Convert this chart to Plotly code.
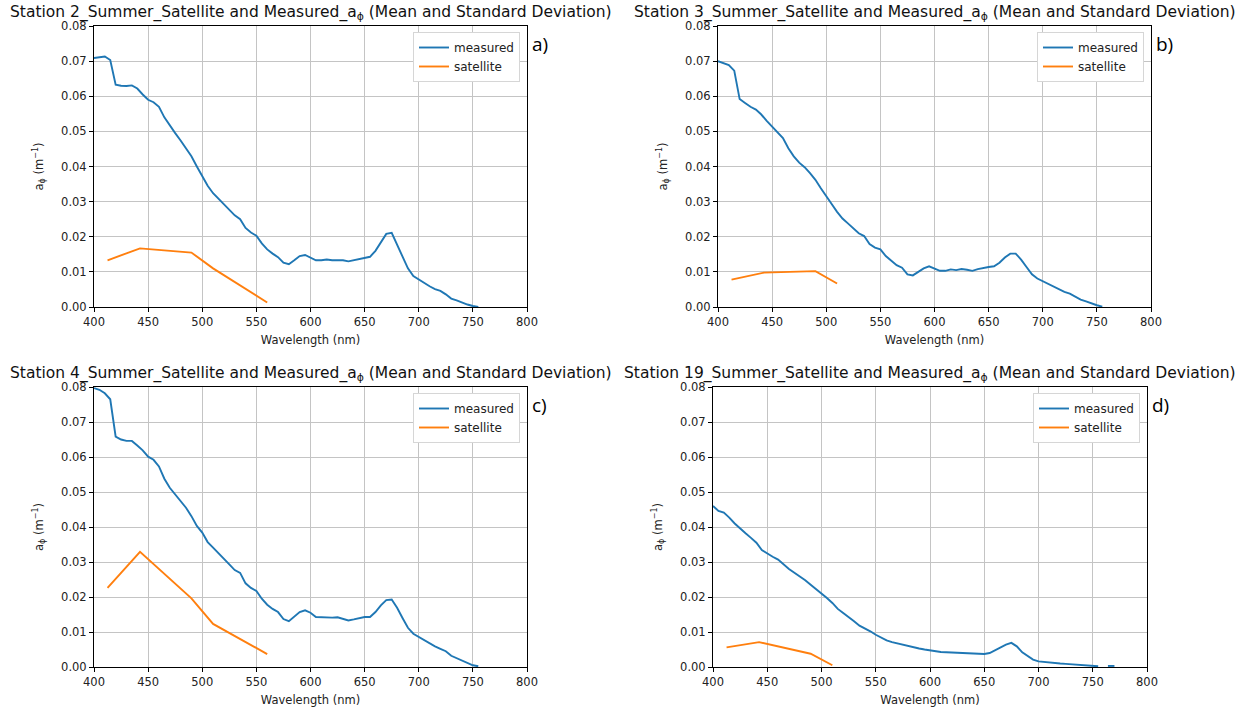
import plotly.graph_objects as go

# ---------------- data ----------------
wavelength = list(range(400, 760, 5))  # 400..755 nm

st2_measured = [
    0.0709, 0.0712, 0.0713, 0.0703, 0.0633, 0.0630, 0.0629, 0.0631, 0.0622, 0.0605,
    0.0590, 0.0583, 0.0570, 0.0540, 0.0516, 0.0495, 0.0474, 0.0452, 0.0429, 0.0400,
    0.0371, 0.0345, 0.0324, 0.0308, 0.0291, 0.0278, 0.0261, 0.0250, 0.0225, 0.0212,
    0.0203, 0.0181, 0.0164, 0.0152, 0.0142, 0.0126, 0.0122, 0.0133, 0.0145, 0.0148,
    0.0141, 0.0133, 0.0133, 0.0135, 0.0133, 0.0134, 0.0133, 0.0130, 0.0133, 0.0137,
    0.0141, 0.0143, 0.0160, 0.0185, 0.0208, 0.0211, 0.0179, 0.0143, 0.0110, 0.0088,
    0.0078, 0.0069, 0.0059, 0.0051, 0.0046, 0.0036, 0.0024, 0.0019, 0.0012, 0.0007,
    0.0003, 0.0000,
]
st3_measured = [
    0.0700, 0.0695, 0.0689, 0.0673, 0.0592, 0.0581, 0.0570, 0.0562, 0.0548, 0.0530,
    0.0514, 0.0500, 0.0481, 0.0452, 0.0429, 0.0411, 0.0398, 0.0381, 0.0362, 0.0338,
    0.0314, 0.0293, 0.0271, 0.0252, 0.0238, 0.0224, 0.0210, 0.0202, 0.0179, 0.0169,
    0.0164, 0.0145, 0.0131, 0.0119, 0.0112, 0.0093, 0.0090, 0.0100, 0.0110, 0.0116,
    0.0110, 0.0103, 0.0103, 0.0107, 0.0105, 0.0108, 0.0106, 0.0103, 0.0108, 0.0112,
    0.0114, 0.0116, 0.0126, 0.0141, 0.0152, 0.0152, 0.0135, 0.0114, 0.0093, 0.0081,
    0.0073, 0.0065, 0.0057, 0.0050, 0.0043, 0.0038, 0.0029, 0.0021, 0.0016, 0.0010,
    0.0005, 0.0001,
]
st4_measured = [
    0.0797, 0.0792, 0.0782, 0.0765, 0.0658, 0.0650, 0.0646, 0.0646, 0.0633, 0.0619,
    0.0601, 0.0592, 0.0573, 0.0538, 0.0512, 0.0493, 0.0471, 0.0455, 0.0431, 0.0403,
    0.0384, 0.0357, 0.0341, 0.0324, 0.0307, 0.0293, 0.0277, 0.0269, 0.0239, 0.0226,
    0.0217, 0.0195, 0.0178, 0.0166, 0.0157, 0.0137, 0.0131, 0.0145, 0.0157, 0.0162,
    0.0155, 0.0143, 0.0142, 0.0143, 0.0141, 0.0142, 0.0137, 0.0133, 0.0136, 0.0140,
    0.0143, 0.0143, 0.0157, 0.0176, 0.0191, 0.0193, 0.0169, 0.0140, 0.0112, 0.0095,
    0.0086, 0.0076, 0.0067, 0.0059, 0.0052, 0.0045, 0.0032, 0.0025, 0.0018, 0.0011,
    0.0005, 0.0002,
]
st19_measured = [
    0.0460, 0.0446, 0.0441, 0.0427, 0.0410, 0.0395, 0.0382, 0.0369, 0.0355, 0.0334,
    0.0324, 0.0315, 0.0307, 0.0293, 0.0280, 0.0269, 0.0259, 0.0248, 0.0235, 0.0223,
    0.0211, 0.0197, 0.0183, 0.0166, 0.0154, 0.0143, 0.0131, 0.0118, 0.0111, 0.0102,
    0.0092, 0.0083, 0.0076, 0.0071, 0.0067, 0.0064, 0.0059, 0.0057, 0.0053, 0.0050,
    0.0047, 0.0045, 0.0043, 0.0042, 0.0041, 0.0040, 0.0039, 0.0040, 0.0039, 0.0037,
    0.0037, 0.0040, 0.0048, 0.0056, 0.0064, 0.0069, 0.0059, 0.0042, 0.0031, 0.0021,
    0.0016, 0.0014, 0.0013, 0.0011, 0.0010, 0.0009, 0.0008, 0.0007, 0.0005, 0.0005,
    0.0004, 0.0002,
]
st19_tail_wavelength = [760, 764, 770]
st19_tail_measured = [None, 0.0003, 0.0003]

satellite_bands = [412.5, 442.5, 490, 510, 560]
st2_satellite = [0.0133, 0.0167, 0.0155, 0.0110, 0.0013]
st3_satellite = [0.0078, 0.0098, 0.0102, 0.0067]
st4_satellite = [0.0226, 0.0329, 0.0196, 0.0123, 0.0037]
st19_satellite = [0.0056, 0.0071, 0.0038, 0.0005]

stations = ["Station 2", "Station 3", "Station 4", "Station 19"]
panel_letters = ["a)", "b)", "c)", "d)"]
x_ticks = [400, 450, 500, 550, 600, 650, 700, 750, 800]
y_ticks = [0.00, 0.01, 0.02, 0.03, 0.04, 0.05, 0.06, 0.07, 0.08]

# ---------------- layout geometry (pixels) ----------------
W, H = 1247, 713
panels = [
    dict(x0=94, x1=527, y0=26, y1=307),
    dict(x0=718, x1=1151, y0=26, y1=307),
    dict(x0=94, x1=527, y0=387, y1=667),
    dict(x0=713, x1=1147, y0=387, y1=667),
]

BLUE = "#1f77b4"
ORANGE = "#ff7f0e"
FONT = "DejaVu Sans"

measured_all = [
    (wavelength, st2_measured),
    (wavelength, st3_measured),
    (wavelength, st4_measured),
    (wavelength + st19_tail_wavelength, st19_measured + st19_tail_measured),
]
satellite_all = [st2_satellite, st3_satellite, st4_satellite, st19_satellite]

fig = go.Figure()
annotations = []
layout_extra = {}

for i in range(4):
    p = panels[i]
    n = "" if i == 0 else str(i + 1)
    xa = "x" + n
    ya = "y" + n
    leg = "legend" + n
    mx, my = measured_all[i]
    sat = satellite_all[i]
    fig.add_trace(go.Scatter(x=mx, y=my, mode="lines", name="measured",
                             line=dict(color=BLUE, width=1.9), xaxis=xa, yaxis=ya,
                             legend=leg, connectgaps=False))
    fig.add_trace(go.Scatter(x=satellite_bands[:len(sat)], y=sat, mode="lines",
                             name="satellite", line=dict(color=ORANGE, width=1.9),
                             xaxis=xa, yaxis=ya, legend=leg))

    dx = [p["x0"] / W, p["x1"] / W]
    dy = [(H - p["y1"]) / H, (H - p["y0"]) / H]
    axis_common = dict(showline=True, linecolor="black", linewidth=1, mirror=True,
                       ticks="outside", ticklen=4, tickcolor="black",
                       showgrid=True, gridcolor="#c4c4c4", gridwidth=1,
                       automargin=False,
                       zeroline=False, tickfont=dict(family=FONT, size=11.5, color="#222"))
    layout_extra["xaxis" + n] = dict(axis_common, domain=dx, range=[400, 800],
                                    tickvals=x_ticks, anchor=ya,
                                    title=dict(text="Wavelength (nm)", standoff=8,
                                               font=dict(family=FONT, size=11.5, color="#222")))
    layout_extra["yaxis" + n] = dict(axis_common, domain=dy, range=[0, 0.08],
                                    tickvals=y_ticks, tickformat=".2f", anchor=xa,
                                    title=dict(text="a<sub>ϕ</sub> (m<sup>−1</sup>)", standoff=15,
                                               font=dict(family=FONT, size=11.5, color="#222")))
    layout_extra[leg] = dict(x=(p["x1"] - 7) / W, y=(H - p["y0"] - 6) / H,
                             xanchor="right", yanchor="top", bgcolor="white",
                             bordercolor="#d6d6d6", borderwidth=1,
                             font=dict(family=FONT, size=12, color="#222"),
                             tracegroupgap=0, itemwidth=30)
    # title
    annotations.append(dict(
        text=f"{stations[i]}_Summer_Satellite and Measured_a<sub>ϕ</sub> (Mean and Standard Deviation)",
        x=(p["x0"] + p["x1"]) / 2 / W, y=(H - p["y0"] + 13) / H,
        xref="paper", yref="paper", xanchor="center", yanchor="middle",
        showarrow=False, font=dict(family=FONT, size=15.5, color="#111")))
    # panel letter
    annotations.append(dict(
        text=panel_letters[i], x=(p["x1"] + 3) / W, y=(H - p["y0"] - 18) / H,
        xref="paper", yref="paper", xanchor="left", yanchor="middle",
        showarrow=False, font=dict(family="Open Sans", size=19, color="black")))

fig.update_layout(
    width=W, height=H,
    margin=dict(l=0, r=0, t=0, b=0),
    paper_bgcolor="white", plot_bgcolor="white",
    showlegend=True,
    annotations=annotations,
    **layout_extra,
)

fig.write_html("out.html")
